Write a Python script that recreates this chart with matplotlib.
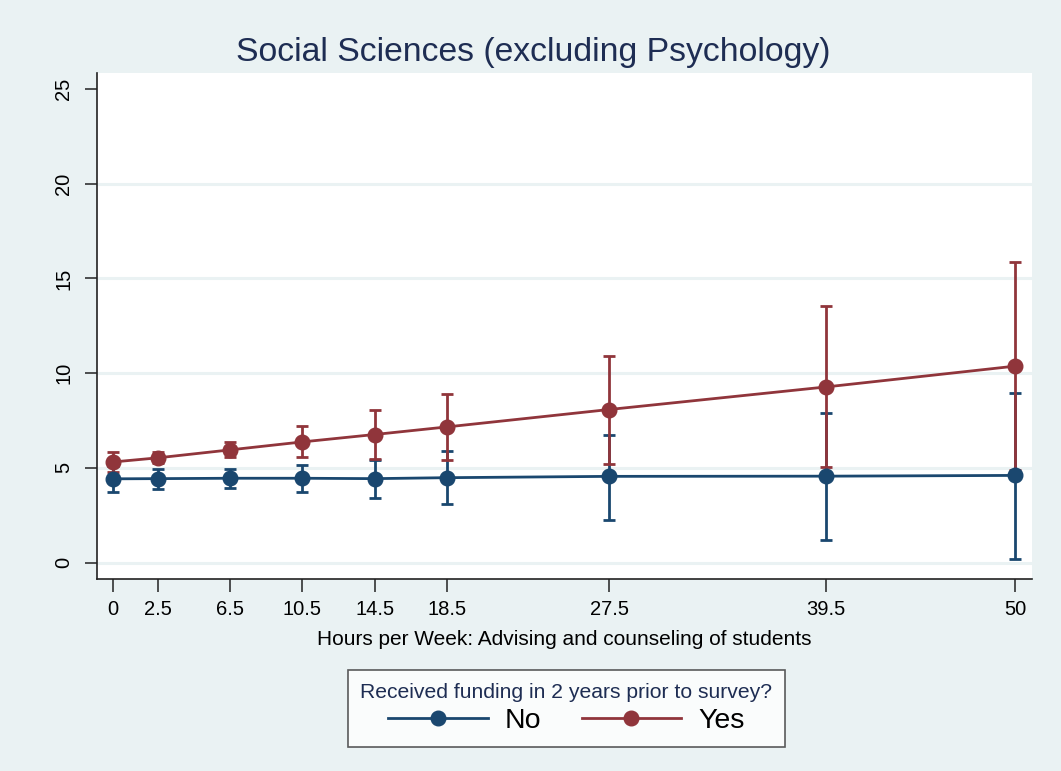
import matplotlib
matplotlib.use("Agg")
import matplotlib.pyplot as plt
from matplotlib.lines import Line2D

plt.rcParams['font.family'] = ['Liberation Sans', 'DejaVu Sans']

hours = [0, 2.5, 6.5, 10.5, 14.5, 18.5, 27.5, 39.5, 50]
tick_labels = ["0", "2.5", "6.5", "10.5", "14.5", "18.5", "27.5", "39.5", "50"]

no_mean = [4.42, 4.43, 4.45, 4.45, 4.43, 4.48, 4.55, 4.56, 4.60]
no_low = [3.75, 3.88, 3.95, 3.73, 3.43, 3.08, 2.27, 1.18, 0.20]
no_high = [5.09, 4.94, 4.95, 5.16, 5.43, 5.89, 6.72, 7.92, 8.94]

yes_mean = [5.31, 5.53, 5.95, 6.37, 6.76, 7.16, 8.08, 9.27, 10.37]
yes_low = [4.76, 5.25, 5.55, 5.57, 5.47, 5.39, 5.22, 5.02, 4.90]
yes_high = [5.84, 5.82, 6.35, 7.19, 8.06, 8.89, 10.90, 13.55, 15.85]

series_labels = ["No", "Yes"]
legend_title = "Received funding in 2 years prior to survey?"
title = "Social Sciences (excluding Psychology)"
xlabel = "Hours per Week: Advising and counseling of students"
yticks = [0, 5, 10, 15, 20, 25]

navy = "#1a476f"
maroon = "#90353b"
bg = "#eaf2f3"
textnavy = "#1e2d53"

W, H = 1061, 771
fig = plt.figure(figsize=(W / 100, H / 100), dpi=100, facecolor=bg)
ax = fig.add_axes([97 / W, (H - 579) / H, (1032 - 97) / W, (579 - 73) / H])
ax.set_facecolor("white")

for yt in yticks[:-1]:
    ax.axhline(yt, color=bg, lw=2.2, zorder=0)

for mean, lo, hi, col in [(no_mean, no_low, no_high, navy), (yes_mean, yes_low, yes_high, maroon)]:
    err = [[m - l for m, l in zip(mean, lo)], [h - m for m, h in zip(mean, hi)]]
    ax.errorbar(hours, mean, yerr=err, fmt='none', ecolor=col, elinewidth=2.0,
                capsize=4.3, capthick=2.0, zorder=2)

ax.plot(hours, no_mean, color=navy, lw=2.0, marker='o', ms=10.5, zorder=3)
ax.plot(hours, yes_mean, color=maroon, lw=2.0, marker='o', ms=10.5, zorder=3)

ax.set_xlim(-0.89, 50.94)
ax.set_ylim(-0.87, 25.85)
ax.set_xticks(hours)
ax.set_xticklabels(tick_labels)
ax.set_yticks(yticks)
ax.set_yticklabels([str(v) for v in yticks], rotation=90, va='center')

for s in ['top', 'right']:
    ax.spines[s].set_visible(False)
for s in ['left', 'bottom']:
    ax.spines[s].set_color("#222222")
    ax.spines[s].set_linewidth(1.2)
ax.tick_params(axis='both', direction='out', length=9, width=1.1, color="#222222",
               labelsize=14.5, labelcolor="black", pad=6)
ax.tick_params(axis='y', pad=8)

ax.set_xlabel(xlabel, fontsize=15, color="black", labelpad=8)
fig.text(533 / W, 1 - 53 / H, title, ha='center', va='center', fontsize=24.3, color=textnavy)

handles = [Line2D([0], [0], color=navy, lw=2.0, marker='o', ms=10.5),
           Line2D([0], [0], color=maroon, lw=2.0, marker='o', ms=10.5)]
leg = fig.legend(handles, series_labels, loc='center',
                 bbox_to_anchor=(566.5 / W, 1 - 708.5 / H), ncol=2, title=legend_title,
                 frameon=True, fancybox=False, edgecolor="#333333", facecolor="white",
                 fontsize=20.5, title_fontsize=15.2, handlelength=3.5, handletextpad=0.6,
                 columnspacing=1.4, borderpad=0.45, labelspacing=0.2)
leg.get_frame().set_linewidth(1.2)
leg.get_title().set_color(textnavy)

fig.savefig("out.png", dpi=100, facecolor=bg)
